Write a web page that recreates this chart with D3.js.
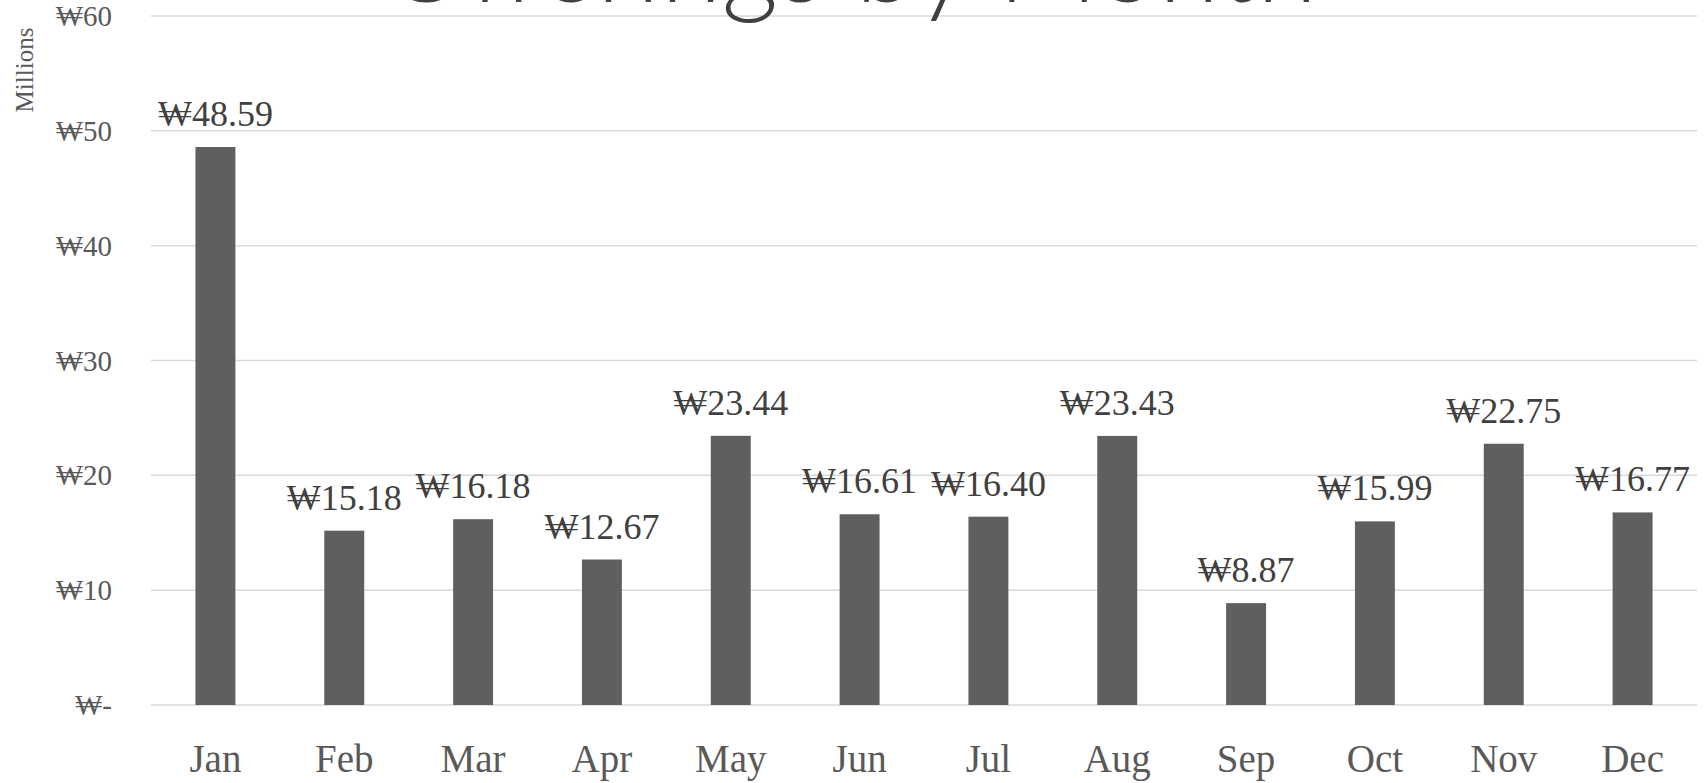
<!DOCTYPE html>
<html lang="en">
<head>
  <meta charset="UTF-8">
  <script src="https://d3js.org/d3.v7.min.js"></script>
  <style>
    body { margin: 0; background: white; }
    svg { display: block; }
  </style>
</head>
<body>
  <div id="chart"></div>
  <script>
    // values in millions of won
    const months = ["Jan", "Feb", "Mar", "Apr", "May", "Jun", "Jul", "Aug", "Sep", "Oct", "Nov", "Dec"];
    const offerings = [48.59, 15.18, 16.18, 12.67, 23.44, 16.61, 16.40, 23.43, 8.87, 15.99, 22.75, 16.77];
    const yTicks = [0, 10, 20, 30, 40, 50, 60];

    const W = 1704, H = 783;
    const serif = "'Liberation Serif', 'DejaVu Serif', serif";

    const svg = d3.select("#chart").append("svg")
      .attr("width", W)
      .attr("height", H);

    const x = d3.scaleBand()
      .domain(months)
      .range([151, 1697])
      .paddingInner(0.69)
      .paddingOuter(0.345);

    const y = d3.scaleLinear().domain([0, 60]).range([705, 16]);

    // gridlines
    svg.append("g")
      .selectAll("line")
      .data(yTicks)
      .join("line")
      .attr("x1", 151)
      .attr("x2", 1697)
      .attr("y1", d => y(d))
      .attr("y2", d => y(d))
      .attr("stroke", "#d9d9d9")
      .attr("stroke-width", 1.5);

    // y tick labels
    svg.append("g")
      .selectAll("text")
      .data(yTicks)
      .join("text")
      .attr("x", 112)
      .attr("y", d => y(d))
      .attr("dy", "0.35em")
      .attr("text-anchor", "end")
      .style("font-family", serif)
      .style("font-size", "29px")
      .style("fill", "#595959")
      .text(d => d === 0 ? "₩-" : "₩" + d);

    svg.append("text")
      .attr("transform", "translate(33,70) rotate(-90)")
      .attr("text-anchor", "middle")
      .style("font-family", serif)
      .style("font-size", "25px")
      .style("fill", "#595959")
      .text("Millions");

    // bars
    svg.append("g")
      .selectAll("rect")
      .data(offerings)
      .join("rect")
      .attr("x", (d, i) => x(months[i]))
      .attr("y", d => y(d))
      .attr("width", x.bandwidth())
      .attr("height", d => y(0) - y(d))
      .attr("fill", "#5f5f5f");

    // data labels
    svg.append("g")
      .selectAll("text")
      .data(offerings)
      .join("text")
      .attr("x", (d, i) => x(months[i]) + x.bandwidth() / 2)
      .attr("y", d => y(d) - 21)
      .attr("text-anchor", "middle")
      .style("font-family", serif)
      .style("font-size", "36px")
      .style("fill", "#404040")
      .text(d => "₩" + d.toFixed(2));

    // x labels
    svg.append("g")
      .selectAll("text")
      .data(months)
      .join("text")
      .attr("x", d => x(d) + x.bandwidth() / 2)
      .attr("y", 772)
      .attr("text-anchor", "middle")
      .style("font-family", serif)
      .style("font-size", "39px")
      .style("fill", "#595959")
      .text(d => d);

    // title, mostly cut off at the top like in the source
    const title = svg.append("text")
      .attr("x", 850)
      .attr("y", 2)
      .attr("text-anchor", "middle")
      .style("font-family", "Lato, 'Open Sans', sans-serif")
      .style("font-weight", 300)
      .style("font-size", "80px")
      .style("fill", "#404040")
      .text("Offerings by Month");
    const tw = title.node().getComputedTextLength();
    title.style("font-size", (80 * 935 / tw) + "px");
  </script>
</body>
</html>
